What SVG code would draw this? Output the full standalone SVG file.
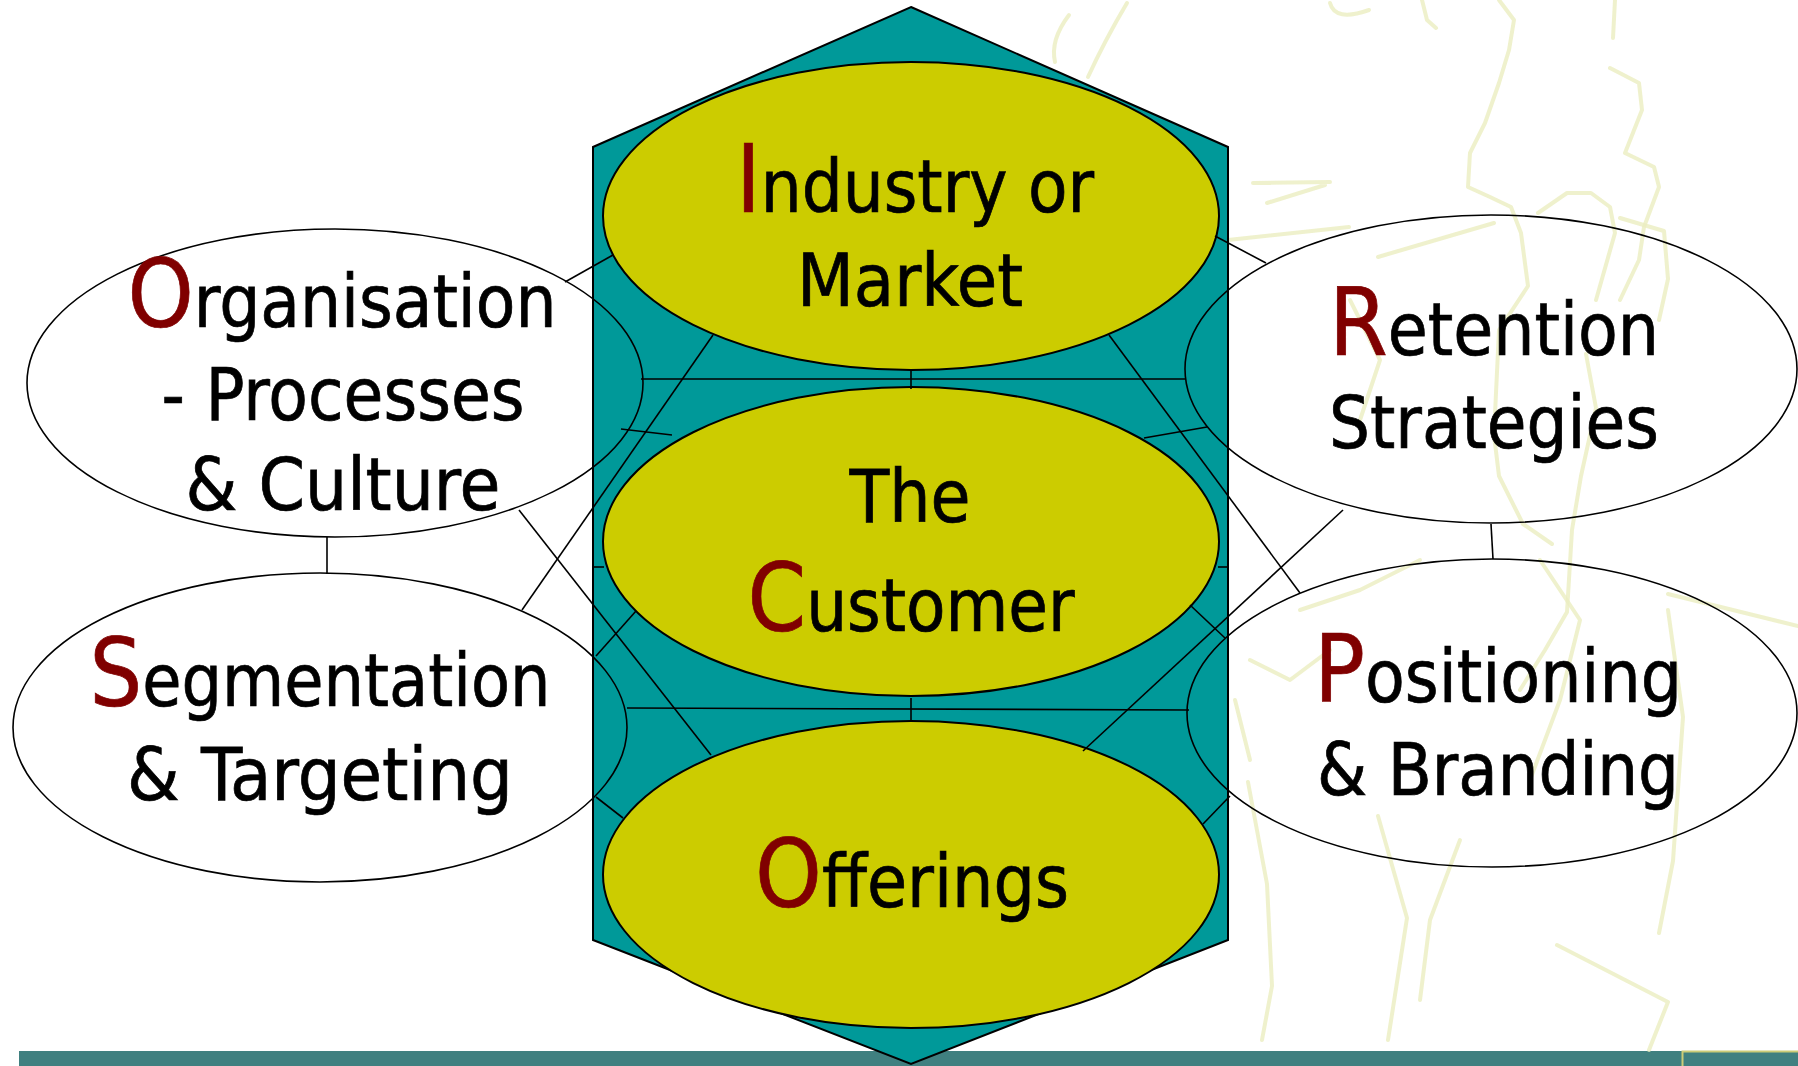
<svg xmlns="http://www.w3.org/2000/svg" width="1798" height="1066" viewBox="0 0 1798 1066">
<style>
.wm{fill:none;stroke:#ebeec0;stroke-width:4;stroke-linecap:round;stroke-linejoin:round;opacity:0.8}
.core{fill:#cccc00;stroke:#000;stroke-width:2}
.side{fill:none;stroke:#000;stroke-width:1.6}
.conn line{stroke:#000;stroke-width:1.6}
.t{font-family:'DejaVu Sans Condensed','DejaVu Sans',sans-serif;font-stretch:condensed;font-size:73px;fill:#000;stroke:#000;stroke-width:0.7;text-anchor:middle}
.r{fill:#800000;stroke:#800000;font-size:95px}
</style>
<rect x="0" y="0" width="1798" height="1066" fill="#fff"/>
<g id="bottom-bar">
<rect x="19" y="1051" width="1779" height="15" fill="#408080"/>
<rect x="1682.5" y="1051.5" width="120" height="20" fill="#408080" stroke="#cccc77" stroke-width="2"/>
</g>
<g id="watermark">
<path class="wm" d="M1069,15 Q1050,40 1055,62"/>
<path class="wm" d="M1127,3 Q1105,40 1088,77"/>
<path class="wm" d="M1330,3 Q1335,22 1369,10"/>
<path class="wm" d="M1422,0 L1427,20 L1436,28"/>
<path class="wm" d="M1499,0 L1514,20 L1509,50 L1499,83 L1485,123 L1470,153 L1468,187 L1490,197 L1511,207 L1521,233 L1528,286 L1499,330 L1494,435 L1499,476 L1523,524 L1552,544"/>
<path class="wm" d="M1615,0 L1613,38"/>
<path class="wm" d="M1610,68 L1639,83 L1642,110 L1625,153 L1654,167 L1659,187 L1644,227 L1639,260 L1620,300"/>
<path class="wm" d="M1253,183 L1330,182 M1267,203 L1325,185"/>
<path class="wm" d="M1228,240 L1349,227"/>
<path class="wm" d="M1378,257 L1494,223"/>
<path class="wm" d="M1538,213 L1567,193 L1591,193 L1610,207 L1615,233 L1596,300"/>
<path class="wm" d="M1620,218 L1664,231 L1668,279 L1659,320"/>
<path class="wm" d="M1586,354 L1596,408 L1581,476 L1572,530 L1567,612 L1545,650 L1520,690"/>
<path class="wm" d="M1350,300 L1380,360 L1360,420"/>
<path class="wm" d="M1300,610 L1360,590 L1420,560"/>
<path class="wm" d="M1250,660 L1290,680 L1330,650"/>
<path class="wm" d="M1248,782 L1267,884 L1272,986 L1262,1040"/>
<path class="wm" d="M1378,816 L1407,918 L1388,1040"/>
<path class="wm" d="M1460,840 L1430,920 L1420,1000"/>
<path class="wm" d="M1668,610 L1683,717 L1673,861 L1659,933"/>
<path class="wm" d="M1668,594 L1798,626"/>
<path class="wm" d="M1557,945 L1668,1002 L1649,1050"/>
<path class="wm" d="M1235,700 L1250,760"/>
<path class="wm" d="M1540,560 L1580,620 L1560,700 L1530,780"/>
</g>
<g id="hexagon">
<polygon points="911,7 1228,147 1228,940 911,1064 593,940 593,147" fill="#009999" stroke="#000" stroke-width="2"/>
</g>
<g id="industry">
<ellipse class="core" cx="911" cy="216" rx="308" ry="154"/>
<text class="t" x="915" y="212" textLength="358" lengthAdjust="spacingAndGlyphs"><tspan class="r">I</tspan>ndustry or</text>
<text class="t" x="910" y="306" textLength="226" lengthAdjust="spacingAndGlyphs">Market</text>
</g>
<g id="customer">
<ellipse class="core" cx="911" cy="541.5" rx="308" ry="154.5"/>
<text class="t" x="910" y="522" textLength="121" lengthAdjust="spacingAndGlyphs">The</text>
<text class="t" x="911" y="631" textLength="327" lengthAdjust="spacingAndGlyphs"><tspan class="r">C</tspan>ustomer</text>
</g>
<g id="offerings">
<ellipse class="core" cx="911" cy="874.5" rx="308" ry="153.5"/>
<text class="t" x="912" y="907" textLength="314" lengthAdjust="spacingAndGlyphs"><tspan class="r">O</tspan>fferings</text>
</g>
<g id="organisation">
<ellipse class="side" cx="335" cy="383" rx="308" ry="154"/>
<text class="t" x="342" y="327" textLength="429" lengthAdjust="spacingAndGlyphs"><tspan class="r">O</tspan>rganisation</text>
<text class="t" x="343" y="420" textLength="363" lengthAdjust="spacingAndGlyphs">- Processes</text>
<text class="t" x="343" y="510" textLength="315" lengthAdjust="spacingAndGlyphs">&amp; Culture</text>
</g>
<g id="segmentation">
<ellipse class="side" cx="320" cy="727.5" rx="307" ry="154.5"/>
<text class="t" x="320" y="706" textLength="461" lengthAdjust="spacingAndGlyphs"><tspan class="r">S</tspan>egmentation</text>
<text class="t" x="320" y="800" textLength="386" lengthAdjust="spacingAndGlyphs">&amp; Targeting</text>
</g>
<g id="retention">
<ellipse class="side" cx="1491" cy="369" rx="306" ry="154"/>
<text class="t" x="1494" y="355" textLength="330" lengthAdjust="spacingAndGlyphs"><tspan class="r">R</tspan>etention</text>
<text class="t" x="1494" y="448" textLength="330" lengthAdjust="spacingAndGlyphs">Strategies</text>
</g>
<g id="positioning">
<ellipse class="side" cx="1492" cy="713" rx="305" ry="154"/>
<text class="t" x="1498" y="702" textLength="368" lengthAdjust="spacingAndGlyphs"><tspan class="r">P</tspan>ositioning</text>
<text class="t" x="1498" y="795" textLength="362" lengthAdjust="spacingAndGlyphs">&amp; Branding</text>
</g>
<g id="connectors" class="conn">
<line x1="565" y1="282" x2="613" y2="255"/>
<line x1="1215" y1="236" x2="1266" y2="263"/>
<line x1="641" y1="379" x2="1185" y2="379"/>
<line x1="911" y1="370" x2="911" y2="389"/>
<line x1="621" y1="429" x2="672" y2="435"/>
<line x1="1144" y1="438" x2="1207" y2="427"/>
<line x1="713" y1="335" x2="522" y2="610"/>
<line x1="1109" y1="335" x2="1300" y2="593"/>
<line x1="519" y1="510" x2="711" y2="755"/>
<line x1="1343" y1="510" x2="1083" y2="751"/>
<line x1="593" y1="567" x2="604" y2="567"/>
<line x1="1218" y1="567" x2="1228" y2="567"/>
<line x1="636" y1="611" x2="596" y2="656"/>
<line x1="1190" y1="605" x2="1225" y2="638"/>
<line x1="627" y1="708" x2="1189" y2="710"/>
<line x1="911" y1="698" x2="911" y2="721"/>
<line x1="596" y1="797" x2="623" y2="818"/>
<line x1="1203" y1="824" x2="1230" y2="796"/>
<line x1="327" y1="537" x2="327" y2="574"/>
<line x1="1491" y1="524" x2="1493" y2="559"/>
</g>
</svg>
